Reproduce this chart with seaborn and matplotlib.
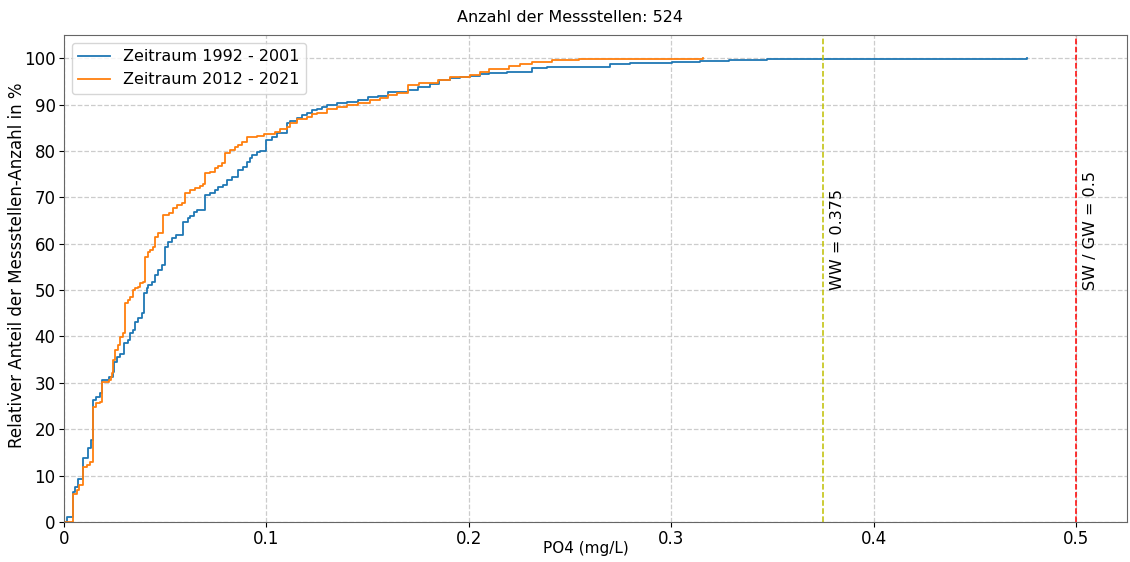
import matplotlib
matplotlib.use("Agg")
import matplotlib.pyplot as plt
import seaborn as sns
import pandas as pd

# Cumulative share of stations (in %) reached at each PO4 concentration (mg/L)
po4_1992 = [0.0, 0.0015, 0.0045, 0.0055, 0.007, 0.0095, 0.012, 0.0135, 0.0145, 0.016,
            0.018, 0.019, 0.022, 0.024, 0.0245, 0.026, 0.0275, 0.0295, 0.0315, 0.0325,
            0.034, 0.035, 0.0365, 0.0385, 0.0395, 0.041, 0.0415, 0.0435, 0.045, 0.0465,
            0.0485, 0.05, 0.0515, 0.0535, 0.0555, 0.059, 0.061, 0.062, 0.064, 0.0655,
            0.0695, 0.072, 0.0745, 0.076, 0.0785, 0.0805, 0.083, 0.086, 0.0885, 0.0905,
            0.092, 0.093, 0.0955, 0.097, 0.1, 0.1025, 0.105, 0.11, 0.1115, 0.115,
            0.1175, 0.12, 0.1225, 0.125, 0.1275, 0.13, 0.135, 0.14, 0.145, 0.15,
            0.155, 0.16, 0.17, 0.175, 0.181, 0.185, 0.1905, 0.1955, 0.2005, 0.2055,
            0.21, 0.219, 0.231, 0.2385, 0.2695, 0.2795, 0.3005, 0.314, 0.3285, 0.347,
            0.4755]
pct_1992 = [0.0, 1.0, 6.5, 7.5, 9.2, 13.8, 16.0, 17.7, 26.3, 27.0,
            27.8, 30.6, 31.3, 32.3, 34.5, 35.5, 36.2, 38.6, 39.2, 40.7,
            41.4, 43.1, 44.0, 45.0, 49.4, 50.4, 51.0, 51.7, 53.2, 54.3,
            55.4, 59.3, 60.3, 61.2, 61.9, 64.7, 65.5, 66.0, 66.8, 67.3,
            70.5, 71.0, 71.6, 72.2, 72.6, 73.7, 74.4, 75.9, 76.5, 77.6,
            78.5, 79.1, 79.8, 80.0, 82.3, 83.0, 83.8, 86.0, 86.4, 87.0,
            87.7, 88.1, 88.8, 89.0, 89.4, 90.0, 90.3, 90.6, 91.0, 91.6,
            91.9, 92.7, 93.1, 93.8, 94.4, 95.3, 95.7, 96.0, 96.1, 96.5,
            96.7, 97.0, 97.8, 98.1, 98.7, 98.9, 99.2, 99.4, 99.6, 99.8,
            100.0]

po4_2012 = [0.0, 0.0045, 0.0065, 0.0075, 0.0095, 0.0115, 0.013, 0.0145, 0.016, 0.018,
            0.019, 0.022, 0.023, 0.0235, 0.024, 0.025, 0.0265, 0.0275, 0.029, 0.03,
            0.0315, 0.0325, 0.034, 0.035, 0.0365, 0.0375, 0.039, 0.04, 0.0415, 0.0425,
            0.044, 0.045, 0.0465, 0.049, 0.052, 0.054, 0.056, 0.0585, 0.0597, 0.062,
            0.0645, 0.067, 0.0685, 0.0697, 0.072, 0.0745, 0.076, 0.078, 0.0795, 0.082,
            0.0845, 0.086, 0.088, 0.0903, 0.0955, 0.099, 0.104, 0.1065, 0.11, 0.1115,
            0.115, 0.12, 0.1225, 0.125, 0.13, 0.135, 0.14, 0.145, 0.151, 0.156,
            0.16, 0.1645, 0.17, 0.1755, 0.1845, 0.1905, 0.2005, 0.2055, 0.21, 0.22,
            0.225, 0.231, 0.241, 0.2545, 0.3155]
pct_2012 = [0.0, 6.0, 6.9, 8.0, 11.9, 12.3, 13.0, 24.8, 25.6, 25.9,
            30.2, 30.6, 31.3, 32.1, 35.0, 37.0, 38.1, 39.9, 40.7, 47.2,
            47.8, 48.5, 50.0, 50.4, 50.6, 51.5, 51.7, 57.1, 58.2, 58.6,
            59.3, 61.4, 62.3, 66.2, 66.6, 67.7, 68.3, 68.8, 70.9, 71.6,
            72.0, 72.4, 72.8, 75.2, 75.4, 76.3, 76.7, 77.4, 79.5, 80.2,
            80.8, 81.3, 81.9, 83.0, 83.2, 83.6, 84.0, 84.7, 85.1, 86.0,
            86.9, 87.3, 88.0, 88.1, 89.0, 89.4, 89.9, 90.3, 90.9, 91.4,
            92.0, 92.5, 94.2, 94.6, 95.3, 96.0, 96.3, 97.0, 97.6, 98.3,
            98.7, 99.1, 99.6, 99.8, 100.0]

labels = ["Zeitraum 1992 - 2001", "Zeitraum 2012 - 2021"]
n_stations = 524
thresholds = [0.375, 0.5]
threshold_labels = ["WW = 0.375", "SW / GW = 0.5"]
threshold_colors = ["y", "r"]

df = pd.concat([
    pd.DataFrame({"PO4": po4_1992, "Anteil": pct_1992, "Zeitraum": labels[0]}),
    pd.DataFrame({"PO4": po4_2012, "Anteil": pct_2012, "Zeitraum": labels[1]}),
], ignore_index=True)

W, H = 1130, 562
fig = plt.figure(figsize=(W / 100, H / 100), dpi=100)
ax = fig.add_axes([64 / W, 1 - 522 / H, (1127 - 64) / W, (522 - 35) / H])

sns.lineplot(data=df, x="PO4", y="Anteil", hue="Zeitraum",
             palette=["#1f77b4", "#ff7f0e"], estimator=None, sort=False,
             drawstyle="steps-post", linewidth=1.3, ax=ax)

for xv, txt, col in zip(thresholds, threshold_labels, threshold_colors):
    ax.axvline(xv, color=col, linestyle="--", linewidth=1.1)
    ax.text(xv + 0.0035, 50, txt, rotation=90, ha="left", va="bottom", fontsize=11.5)

ax.set_xlim(0, 0.525)
ax.set_ylim(0, 105)
ax.set_xticks([0, 0.1, 0.2, 0.3, 0.4, 0.5])
ax.set_xticklabels(["0", "0.1", "0.2", "0.3", "0.4", "0.5"])
ax.set_yticks(range(0, 101, 10))
ax.tick_params(labelsize=12, pad=2.5)
ax.grid(True, linestyle="--", color="#cccccc", linewidth=0.9)
ax.set_axisbelow(True)
for sp in ax.spines.values():
    sp.set_color("#666666")

ax.set_xlabel("PO4 (mg/L)", fontsize=11)
ax.xaxis.set_label_coords((586 - 64) / (1127 - 64), -0.04)
ax.xaxis.label.set_va("top")
ax.set_ylabel("Relativer Anteil der Messstellen-Anzahl in %", fontsize=12)
ax.yaxis.set_label_coords(-(64 - 17) / (1127 - 64), (522 - 265) / (522 - 35))
ax.yaxis.label.set_va("center")

fig.text(570 / W, 1 - 18 / H, f"Anzahl der Messstellen: {n_stations}",
         ha="center", va="center", fontsize=11.5)

ax.legend(title=None, loc="upper left", fontsize=11.5)

fig.savefig("out.png", dpi=100)
